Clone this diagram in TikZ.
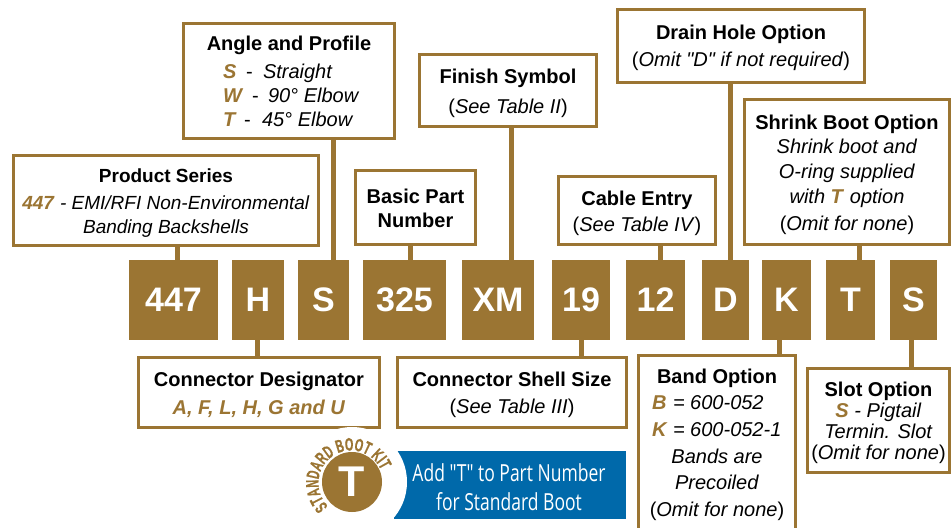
\documentclass[tikz,border=0pt]{standalone}
\usepackage{fontspec}
\setmainfont{Liberation Sans}
\newfontfamily\lib{Liberation Sans}
\newfontfamily\condfont[FakeStretch=0.745]{Open Sans}
\newfontfamily\arcfont[FakeStretch=0.6,BoldFeatures={FakeStretch=0.6,FakeBold=0.6}]{Liberation Sans}
\usetikzlibrary{decorations.text}
\definecolor{gold}{HTML}{9B7533}
\definecolor{bootblue}{HTML}{0069AA}
\newcommand{\gd}[1]{\textcolor{gold}{\textbf{\textit{#1}}}}
% move the text block of a box down by #1 (placed in its first line)
\newcommand{\dn}[1]{\rule{0pt}{\dimexpr 14.5pt+2\dimexpr #1\relax\relax}}
\newcommand{\cd}[1]{\raisebox{-2pt}{#1}}
\newcommand{\angl}[5]{\makebox[132pt][l]{\rlap{\gd{#1}}\hspace{#2}\rlap{-}\hspace{#3}\textit{#4}}#5}
\newcommand{\bnd}[2]{\makebox[130pt][l]{\rlap{\gd{#1}}\hspace{21pt}\textit{= #2}}}
\tikzset{
  infobox/.style={draw=gold,line width=3pt,fill=white,inner sep=0pt,align=center,
    font=\lib\fontsize{20}{24}\selectfont},
  codebox/.style={fill=gold,inner sep=0pt,minimum height=80pt,text=white,
    font=\lib\fontsize{34}{34}\selectfont\bfseries},
  conn/.style={draw=gold,line width=5pt}
}
\begin{document}
\begin{tikzpicture}[x=1pt,y=1pt]
\clip (0,0) rectangle (952,-527);
\fill[white] (0,0) rectangle (952,-527);
% code boxes
\node[codebox,minimum width=89pt] (c447) at (173.5,-300) {\cd{447}};
\node[codebox,minimum width=52pt] (cH) at (258,-300) {\cd{H}};
\node[codebox,minimum width=51pt] (cS) at (323.5,-300) {\cd{S}};
\node[codebox,minimum width=83pt] (c325) at (404.5,-300) {\cd{325}};
\node[codebox,minimum width=72pt] (cXM) at (498,-300) {\cd{XM}};
\node[codebox,minimum width=58pt] (c19) at (581,-300) {\cd{19}};
\node[codebox,minimum width=59pt] (c12) at (655.5,-300) {\cd{12}};
\node[codebox,minimum width=47pt] (cD) at (725.5,-300) {\cd{D}};
\node[codebox,minimum width=49pt] (cK) at (786.5,-300) {\cd{K}};
\node[codebox,minimum width=49pt] (cT) at (850.5,-300) {\cd{T}};
\node[codebox,minimum width=47pt] (cS2) at (913.5,-300) {\cd{S}};
% info boxes
\node[infobox,minimum width=211pt,minimum height=115pt] (angle) at (289,-81) {\textbf{Angle and Profile}\\[4pt]
  \angl{S}{23pt}{17pt}{Straight}{}\\
  \angl{W}{29pt}{16pt}{90° Elbow}{}\\
  \angl{T}{21pt}{18pt}{45° Elbow}{}};
\node[infobox,minimum width=305pt,minimum height=90pt,font=\lib\fontsize{19}{24}\selectfont] (prod) at (166,-200.5) {\dn{2pt}\textbf{Product Series}\\[3pt]
  \gd{447} \textit{- EMI/RFI Non-Environmental}\\
  \textit{Banding Backshells}};
\node[infobox,minimum width=120pt,minimum height=74pt] (basic) at (415.5,-207.5) {\dn{1pt}\textbf{Basic Part}\\\textbf{Number}};
\node[infobox,minimum width=177pt,minimum height=72pt] (finish) at (508,-90.5) {\dn{3pt}\textbf{Finish Symbol}\\[6pt](\textit{See Table II})};
\node[infobox,minimum width=247pt,minimum height=73pt] (drain) at (741,-46) {\dn{2pt}\textbf{Drain Hole Option}\\[3pt](\textit{Omit "D" if not required})};
\node[infobox,minimum width=205pt,minimum height=145pt] (shrink) at (847,-172) {\dn{2.5pt}\textbf{Shrink Boot Option}\\[0pt]
  \textit{Shrink boot and}\\[1pt]\textit{O-ring supplied}\\[1pt]\textit{with} \gd{T} \textit{option}\\[3pt](\textit{Omit for none})};
\node[infobox,minimum width=157pt,minimum height=68pt] (cable) at (637,-210.5) {\dn{3pt}\textbf{Cable Entry}\\[2pt](\textit{See Table IV})};
\node[infobox,minimum width=241pt,minimum height=70pt] (desig) at (259,-392.5) {\dn{2pt}\textbf{Connector Designator}\\[4pt]\gd{A, F, L, H, G and U}};
\node[infobox,minimum width=229pt,minimum height=70pt] (shell) at (512,-392.5) {\dn{2.5pt}\textbf{Connector Shell Size}\\[3pt](\textit{See Table III})};
\node[infobox,minimum width=157pt,minimum height=176pt] (band) at (717,-443.5) {\dn{1.5pt}\textbf{Band Option}\\[2pt]
  \bnd{B}{600-052}\\[3pt]
  \bnd{K}{600-052-1}\\[3pt]
  \textit{Bands are}\\[2pt]\textit{Precoiled}\\[3pt](\textit{Omit for none})};
\node[infobox,minimum width=142pt,minimum height=104pt] (slot) at (878.5,-420.5) {\dn{2pt}\textbf{Slot Option}\\[-3pt]
  \gd{S} \textit{- Pigtail}\\[-3pt]\textit{Termin. Slot}\\[-3pt](\textit{Omit for none})};
% connectors
\draw[conn] (prod.south -| 177,0) -- (c447.north -| 177,0);
\draw[conn] (angle.south -| 333,0) -- (cS.north -| 333,0);
\draw[conn] (basic.south -| 410,0) -- (c325.north -| 410,0);
\draw[conn] (finish.south -| 511,0) -- (cXM.north -| 511,0);
\draw[conn] (cable.south -| 660,0) -- (c12.north -| 660,0);
\draw[conn] (drain.south -| 730,0) -- (cD.north -| 730,0);
\draw[conn] (shrink.south -| 859,0) -- (cT.north -| 859,0);
\draw[conn] (cH.south -| 257,0) -- (desig.north -| 257,0);
\draw[conn] (c19.south -| 581,0) -- (shell.north -| 581,0);
\draw[conn] (cK.south -| 779,0) -- (band.north -| 779,0);
\draw[conn] (cS2.south -| 911,0) -- (slot.north -| 911,0);
% badge
\node[fill=bootblue,inner sep=0pt,minimum width=232pt,minimum height=68pt] (note) at (510,-485) {};
\node[circle,fill=white,inner sep=0pt,minimum size=110pt] (halo) at (352,-482) {};
\node[text=white,inner sep=0pt,align=center,font=\fontsize{23.5}{29}\selectfont\condfont] (notetext) at (509,-487) {Add "T" to Part Number\\for Standard Boot};
\node[circle,fill=gold,inner sep=0pt,minimum size=60pt,text=white,font=\lib\fontsize{43}{43}\selectfont\bfseries] (tee) at (352,-482) {T};
\path[decorate,decoration={text along path,text align=fit to path,
    text={|\fontsize{18}{18}\selectfont\arcfont\bfseries\color{gold}|STANDARD BOOT KIT}}]
  (351,-483) ++(226:32.5) arc[start angle=226,end angle=27,radius=32.5];
\end{tikzpicture}
\end{document}
